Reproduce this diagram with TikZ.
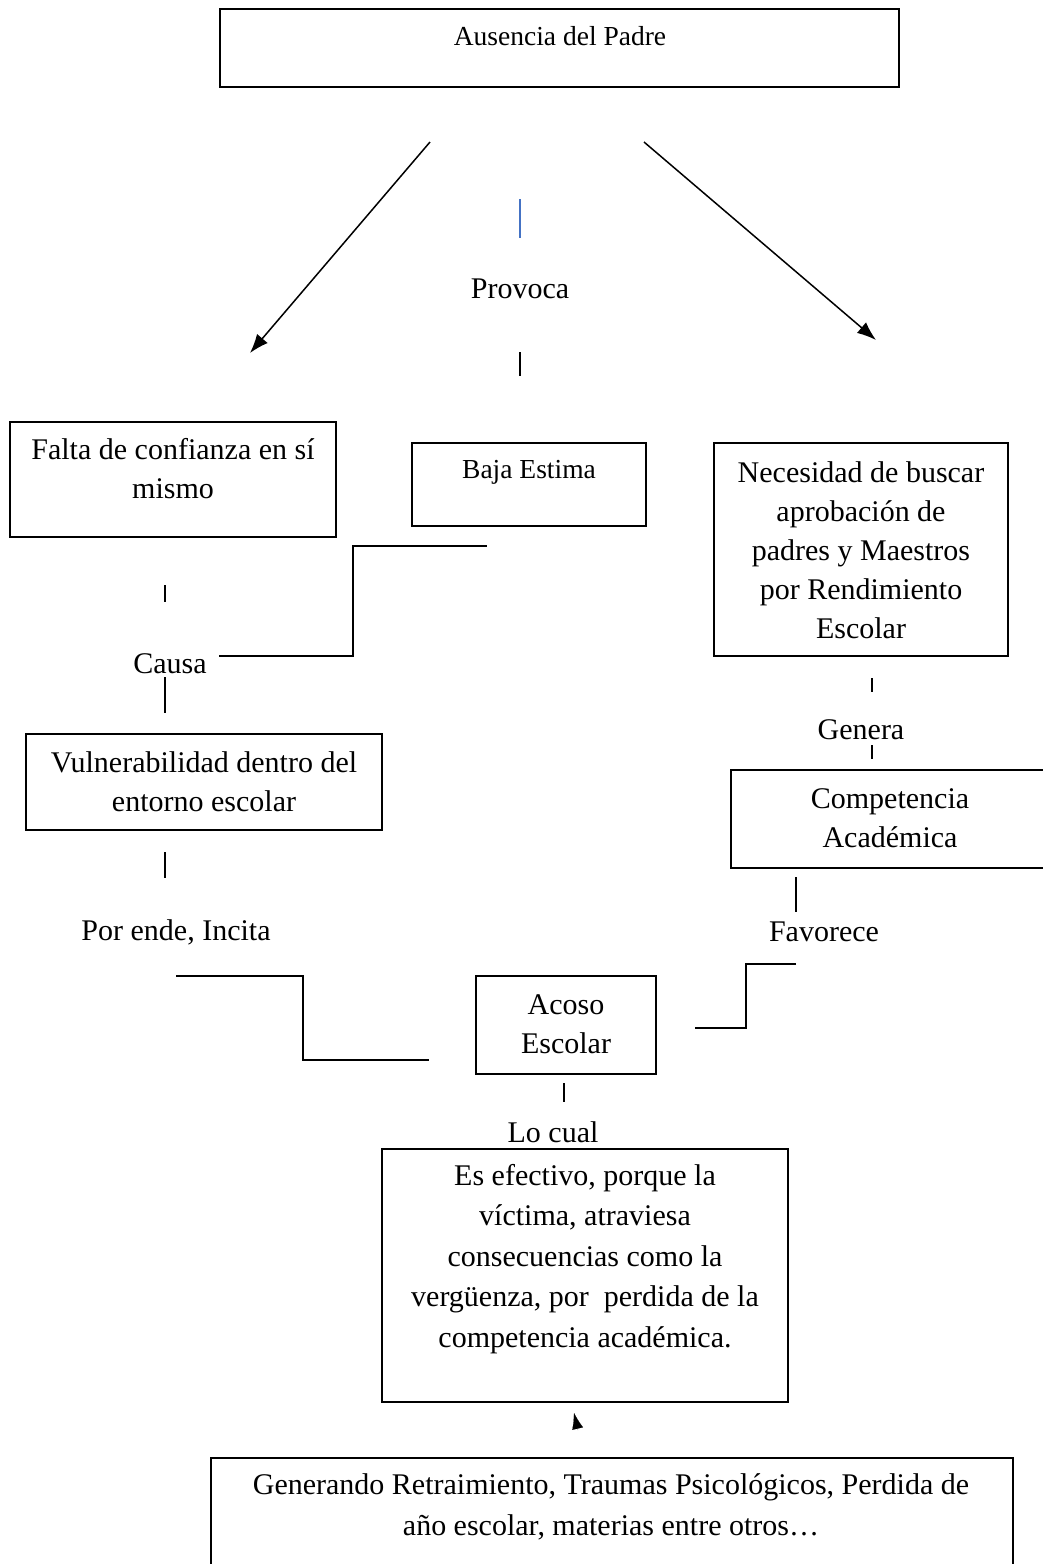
\documentclass[tikz,border=0pt]{standalone}
\usepackage{fontspec}
\setmainfont{Liberation Serif}
\usetikzlibrary{arrows.meta}
\definecolor{wordblue}{HTML}{4472C4}
\begin{document}
\begin{tikzpicture}[x=1pt,y=-1pt,
  boxline/.style={draw=black,line width=1.6pt},
  conn/.style={draw=black,line width=1.5pt},
  arr/.style={conn,-{Latex[length=19pt,width=14pt]}},
  txt/.style={anchor=base,align=center,inner sep=0pt,font=\fontsize{30}{39}\selectfont},
  widetxt/.style={anchor=base,align=center,inner sep=0pt,font=\fontsize{30}{40.5}\selectfont},
  smalltxt/.style={anchor=base,align=center,inner sep=0pt,font=\fontsize{27.5}{36}\selectfont}]
\useasboundingbox (0,0) rectangle (1043,1564);
\fill[white] (0,0) rectangle (1043,1564);

% boxes (multi-line texts are placed at the baseline of their last line)
\draw[boxline] (220,9) rectangle (899,87);
\node[smalltxt] (ausencia) at (560,45) {Ausencia del Padre};

\draw[boxline] (10,422) rectangle (336,537);
\node[txt] (falta) at (173,498) {Falta de confianza en sí\\mismo};

\draw[boxline] (412,443) rectangle (646,526);
\node[smalltxt] (baja) at (529,478) {Baja Estima};

\draw[boxline] (714,443) rectangle (1008,656);
\node[txt] (necesidad) at (861,638) {Necesidad de buscar\\aprobación de\\padres y Maestros\\por Rendimiento\\Escolar};

\draw[boxline] (26,734) rectangle (382,830);
\node[txt] (vuln) at (204,811) {Vulnerabilidad dentro del\\entorno escolar};

\draw[boxline] (731,770) rectangle (1052,868);
\node[txt] (comp) at (890,847) {Competencia\\Académica};

\draw[boxline] (476,976) rectangle (656,1074);
\node[txt] (acoso) at (566,1053) {Acoso\\Escolar};

\draw[boxline] (382,1149) rectangle (788,1402);
\node[widetxt] (efectivo) at (585,1347) {Es efectivo, porque la\\víctima, atraviesa\\consecuencias como la\\vergüenza, por\ \ perdida de la\\competencia académica.};

\draw[boxline] (211,1458) rectangle (1013,1600);
\node[widetxt] (generando) at (611,1535) {Generando Retraimiento, Traumas Psicológicos, Perdida de\\año escolar, materias entre otros…};

% labels
\node[txt] (provoca) at (520,298) {Provoca};
\node[txt] (causa) at (170,673) {Causa};
\node[txt] (porende) at (176,940) {Por ende, Incita};
\node[txt] (genera) at (861,739) {Genera};
\node[txt] (favorece) at (824,941) {Favorece};
\node[txt] (locual) at (553,1142) {Lo cual};

% coordinates
\coordinate (la1) at (430,142); \coordinate (la2) at (250,353);
\coordinate (ra1) at (644,142); \coordinate (ra2) at (876,340);
\coordinate (b1) at (520,199); \coordinate (b2) at (520,238);
\coordinate (p1) at (520,352); \coordinate (p2) at (520,376);
\coordinate (c1) at (165,585); \coordinate (c2) at (165,602);
\coordinate (c3) at (165,677); \coordinate (c4) at (165,713);
\coordinate (s1) at (219,656); \coordinate (s2) at (353,656);
\coordinate (s3) at (353,546); \coordinate (s4) at (487,546);
\coordinate (v1) at (165,852); \coordinate (v2) at (165,878);
\coordinate (t1) at (176,976); \coordinate (t2) at (303,976);
\coordinate (t3) at (303,1060); \coordinate (t4) at (429,1060);
\coordinate (g1) at (872,678); \coordinate (g2) at (872,692);
\coordinate (g3) at (872,745); \coordinate (g4) at (872,759);
\coordinate (f1) at (796,877); \coordinate (f2) at (796,912);
\coordinate (u1) at (796,964); \coordinate (u2) at (746,964);
\coordinate (u3) at (746,1028); \coordinate (u4) at (695,1028);
\coordinate (l1) at (564,1083); \coordinate (l2) at (564,1102);
\coordinate (h1) at (578,1430); \coordinate (h2) at (574,1413);

% connectors
\draw[arr] (la1) -- (la2);
\draw[arr] (ra1) -- (ra2);
\draw[draw=wordblue,line width=1.4pt] (b1) -- (b2);
\draw[conn] (p1) -- (p2);
\draw[conn] (c1) -- (c2);
\draw[conn] (c3) -- (c4);
\draw[conn] (s1) -- (s2) -- (s3) -- (s4);
\draw[conn] (v1) -- (v2);
\draw[conn] (t1) -- (t2) -- (t3) -- (t4);
\draw[conn] (g1) -- (g2);
\draw[conn] (g3) -- (g4);
\draw[conn] (f1) -- (f2);
\draw[conn] (u1) -- (u2) -- (u3) -- (u4);
\draw[conn] (l1) -- (l2);
\draw[line width=0.1pt,-{Latex[length=16pt,width=11pt]}] (h1) -- (h2);
\end{tikzpicture}
\end{document}
